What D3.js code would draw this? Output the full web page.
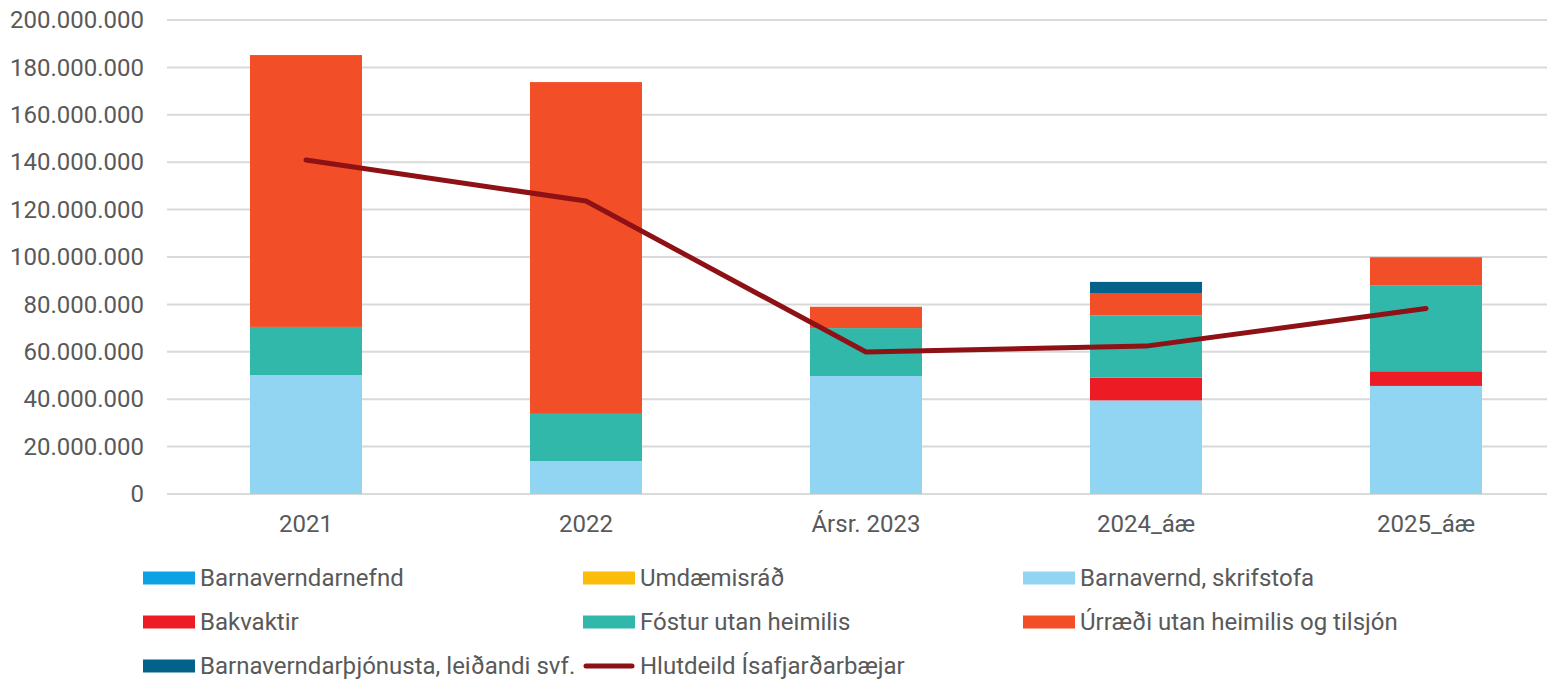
<!DOCTYPE html>
<html><head><meta charset="utf-8">
<script src="https://cdn.jsdelivr.net/npm/d3@7"></script>
<style>
html,body{margin:0;padding:0;background:#fff;overflow:hidden;}
text{font-family:Roboto,"Noto Sans",sans-serif;fill:#595959;}
</style></head>
<body><svg id="c" width="1547" height="679"></svg>
<script>
const categories = ["2021","2022","Ársr. 2023","2024_áæ","2025_áæ"];
const barnaverndarnefnd = [0,0,0,0,0];
const umdaemisrad = [0,0,300000,300000,300000];
const barnaverndSkrifstofa = [50200000,13900000,49500000,39200000,45300000];
const bakvaktir = [0,0,0,9600000,6200000];
const fostur = [20300000,19900000,20200000,26300000,36100000];
const urraedi = [114700000,140000000,9000000,9400000,12000000];
const barnaverndarthjonusta = [0,0,0,4700000,0];
const hlutdeild = [140900000,123600000,59900000,62400000,78300000];
const yTicks = [0,20000000,40000000,60000000,80000000,100000000,120000000,140000000,160000000,180000000,200000000];

const series = [
  {name:"Barnaverndarnefnd", values:barnaverndarnefnd, color:"#0EA1E4"},
  {name:"Umdæmisráð", values:umdaemisrad, color:"#FBBC0A"},
  {name:"Barnavernd, skrifstofa", values:barnaverndSkrifstofa, color:"#92D5F3"},
  {name:"Bakvaktir", values:bakvaktir, color:"#ED1C24"},
  {name:"Fóstur utan heimilis", values:fostur, color:"#31B8AA"},
  {name:"Úrræði utan heimilis og tilsjón", values:urraedi, color:"#F24E27"},
  {name:"Barnaverndarþjónusta, leiðandi svf.", values:barnaverndarthjonusta, color:"#046189"}
];
const lineSeries = {name:"Hlutdeild Ísafjarðarbæjar", values:hlutdeild, color:"#8E1116"};

const svg = d3.select("#c");
const x = d3.scaleBand().domain(categories).range([166,1566]).paddingInner(0.6).paddingOuter(0.3);
const y = d3.scaleLinear().domain([0,200000000]).range([494,20]);
const fmt = v => d3.format(",")(v).replace(/,/g,".");
const FS = 24;

// gridlines
svg.append("g").selectAll("line").data(yTicks).join("line")
  .attr("x1",167).attr("x2",1566).attr("y1",d=>y(d)).attr("y2",d=>y(d))
  .attr("stroke","#D9D9D9").attr("stroke-width",2);

// y axis labels
const yAxis = d3.axisLeft(y).tickValues(yTicks).tickFormat(fmt).tickSize(0).tickPadding(0);
const ya = svg.append("g").attr("transform","translate(144,0)").call(yAxis);
ya.select(".domain").remove();
ya.selectAll("text").attr("font-size",FS).attr("fill","#595959").attr("font-family","Roboto");

// stacked bars
const rows = categories.map((c,i)=>{const r={cat:c}; series.forEach(s=>r[s.name]=s.values[i]); return r;});
const stack = d3.stack().keys(series.map(s=>s.name))(rows);
svg.append("g").selectAll("g").data(stack).join("g")
  .attr("fill",(d,i)=>series[i].color)
  .selectAll("rect").data(d=>d).join("rect")
  .attr("x",d=>x(d.data.cat)).attr("width",x.bandwidth())
  .attr("y",d=>y(d[1])).attr("height",d=>Math.max(0,y(d[0])-y(d[1])));

// x axis labels
const xAxis = d3.axisBottom(x).tickSize(0).tickPadding(0);
const xa = svg.append("g").attr("transform","translate(0,515)").call(xAxis);
xa.select(".domain").remove();
xa.selectAll("text").attr("font-size",FS).attr("dy","0.71em").attr("fill","#595959").attr("font-family","Roboto");

// line
const line = d3.line().x((d,i)=>x(categories[i])+x.bandwidth()/2).y(d=>y(d));
svg.append("path").datum(hlutdeild).attr("d",line).attr("fill","none")
  .attr("stroke",lineSeries.color).attr("stroke-width",5)
  .attr("stroke-linecap","round").attr("stroke-linejoin","round");

// legend
const legendItems = series.map(s=>({name:s.name,color:s.color,type:"rect"})).concat([{name:lineSeries.name,color:lineSeries.color,type:"line"}]);
const colX = [143,583,1023], rowY = [578,622,666];
const lg = svg.append("g").selectAll("g").data(legendItems).join("g")
  .attr("transform",(d,i)=>`translate(${colX[i%3]},${rowY[Math.floor(i/3)]})`);
lg.filter(d=>d.type==="rect").append("rect").attr("x",0).attr("y",-6.5).attr("width",52).attr("height",13).attr("fill",d=>d.color);
lg.filter(d=>d.type==="line").append("line").attr("x1",3).attr("x2",49).attr("y1",0).attr("y2",0)
  .attr("stroke",d=>d.color).attr("stroke-width",5).attr("stroke-linecap","round");
lg.append("text").attr("x",57).attr("y",0).attr("dy","0.35em").attr("font-size",FS).text(d=>d.name);
</script></body></html>
